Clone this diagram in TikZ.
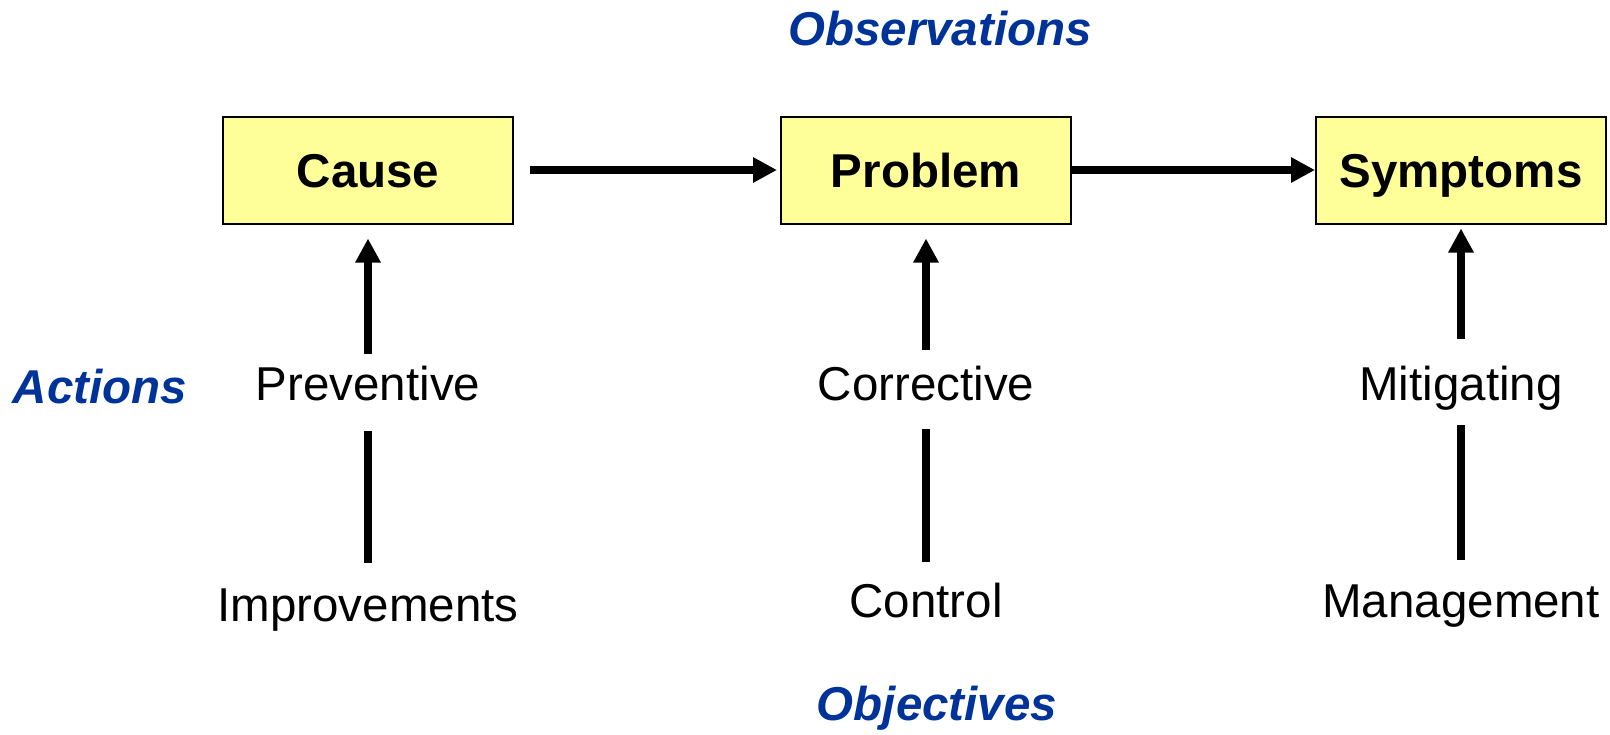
\documentclass[tikz,border=0pt]{standalone}
\usepackage{fontspec}
\setmainfont{Liberation Sans}
\usepackage{tikz}
\usetikzlibrary{arrows.meta, positioning}
\usepackage{xcolor}
\definecolor{boxyellow}{RGB}{255,255,153}
\definecolor{headblue}{RGB}{0,51,153}
\tikzset{%
	stage/.style={
		rectangle,
		draw=black,
		line width=1pt,
		fill=boxyellow,
		minimum width=145pt,
		minimum height=53.5pt,
		text height=17pt,
		text depth=0pt,
		font=\fontsize{23.75pt}{28pt}\selectfont\bfseries
	},
	kind/.style={
		inner sep=0pt,
		text height=18pt,
		text depth=5pt,
		font=\fontsize{23.75pt}{28pt}\selectfont
	},
	heading/.style={
		inner sep=0pt,
		text=headblue,
		font=\fontsize{23.75pt}{28pt}\selectfont\bfseries\itshape
	},
	flow/.style={
		line width=4pt,
		-{Triangle[length=12pt,width=12pt]}
	},
	link/.style={
		line width=4pt
	},
}
\begin{document}
\begin{tikzpicture}[x=0.5pt,y=-0.5pt]
	\useasboundingbox (0,0) rectangle (1610,734);
	
	\node[stage] (cause) at (368,170) {Cause};
	\node[stage] (problem) at (926,170) {Problem};
	\node[stage] (symptoms) at (1461,170) {Symptoms};
	
	\node[kind] (prev) at (368,387) {Preventive};
	\node[kind] (corr) at (926,387) {Corrective};
	\node[kind] (mitig) at (1461,387) {Mitigating};
	
	\node[kind] (impr) at (368,608) {Improvements};
	\node[kind] (ctrl) at (926,604) {Control};
	\node[kind] (mgmt) at (1461,604) {Management};
	
	\node[heading] (obs) at (940,29) {Observations};
	\node[heading] (act) at (100,387) {Actions};
	\node[heading] (obj) at (937,708) {Objectives};
	
	% top row
	\draw[flow, shorten <=8pt, shorten >=1.5pt] (cause) -- (problem);
	\draw[flow, shorten >=0pt] (problem) -- (symptoms);
	
	% columns
	\draw[flow, shorten <=5pt, shorten >=7pt] (prev.north) -- (cause.south);
	\draw[flow, shorten <=7pt, shorten >=7pt] (corr.north) -- (problem.south);
	\draw[flow, shorten <=12.5pt, shorten >=2pt] (mitig.north) -- (symptoms.south);
	
	\draw[link, shorten <=10.5pt, shorten >=11pt] (prev.south) -- (impr.north);
	\draw[link, shorten <=9.5pt, shorten >=9.5pt] (corr.south) -- (ctrl.north);
	\draw[link, shorten <=7.5pt, shorten >=10.5pt] (mitig.south) -- (mgmt.north);
\end{tikzpicture}
\end{document}
